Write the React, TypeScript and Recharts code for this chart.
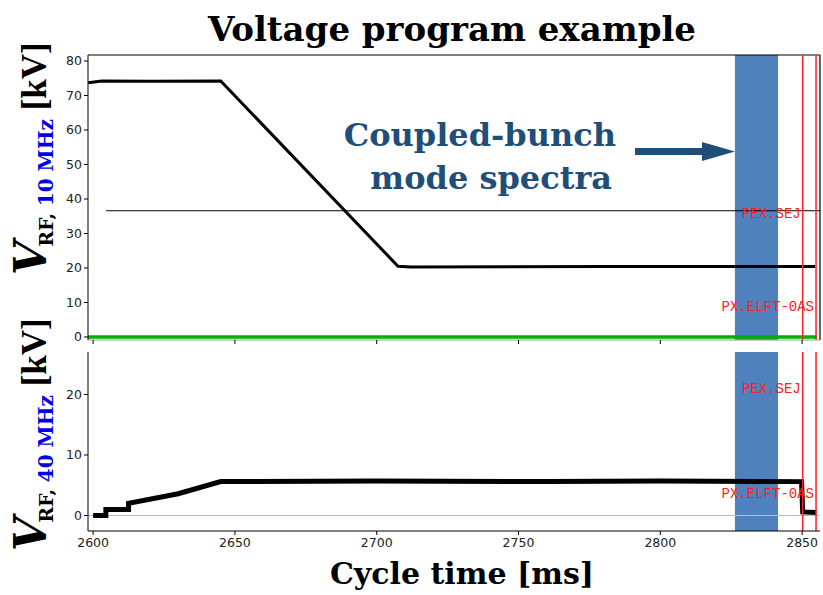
import { LineChart, Line, XAxis, YAxis, ReferenceArea, ReferenceLine, ReferenceDot } from 'recharts'

// shared time axis (ms)
const xTicks = [2600, 2650, 2700, 2750, 2800, 2850]
const xMin = 2598.2
const xMax = 2856.3

// 10 MHz voltage program [kV]
const t10 = [2598.3, 2603, 2620, 2645, 2707.5, 2712, 2780, 2854.6]
const v10 = [73.7, 74.2, 74.1, 74.2, 20.5, 20.3, 20.4, 20.4]
const y10Ticks = [0, 10, 20, 30, 40, 50, 60, 70, 80]
const y10Min = -0.87
const y10Max = 81.74

// 40 MHz voltage [kV]
const t40 = [2600, 2604.5, 2604.5, 2612.5, 2612.5, 2630, 2645, 2700, 2760, 2800, 2849.8, 2850.2, 2855]
const v40 = [0, 0, 1.0, 1.0, 2.0, 3.6, 5.6, 5.7, 5.6, 5.7, 5.6, 0.6, 0.5]
const y40Ticks = [-2, 0, 10, 20]
const y40Min = -2.56
const y40Max = 27.02

// reference trace and markers
const refTimes = [2604.6, 2856.3]
const refLevel = 36.6
const greenTimes = [2598.2, 2855.2]
const bandTimes = [2826.3, 2841.5]
const markerTimes = [2850.2, 2854.9]
const markerNames = ['PEX.SEJ', 'PX.ELFT-0AS']
const markerLevels10 = [35.9, 9.0]
const markerLevels40 = [21.1, 3.7]

const zip = (ts: number[], vs: number[]) => ts.map((t, i) => ({ t, v: vs[i] }))

const tickStyle = { fontSize: 12.5, fill: '#222', fontFamily: 'DejaVu Sans' }
const serif = 'DejaVu Serif'
const navy = '#1F4E79'

function Markers({ levels }: { levels: number[] }) {
  return (
    <>
      {markerTimes.map((m) => (
        <ReferenceLine key={'l' + m} x={m} stroke="#ff2020" strokeWidth={1.5} />
      ))}
      {markerTimes.map((m, i) => (
        <ReferenceDot
          key={'d' + m}
          x={m}
          y={levels[i]}
          r={0}
          fill="none"
          stroke="none"
          label={{ value: markerNames[i], position: 'left', offset: 2, fill: '#ff2020', fontFamily: 'Liberation Mono', fontSize: 14 }}
        />
      ))}
    </>
  )
}

function YLabel({ x, y, mhz }: { x: number; y: number; mhz: string }) {
  return (
    <text x={x} y={y} transform={`rotate(-90 ${x} ${y})`} fontFamily={serif} fontWeight="bold" fill="#000">
      <tspan fontSize={44} fontStyle="italic">V</tspan>
      <tspan fontSize={19} dx={-6} dy={7}>RF, </tspan>
      <tspan fontSize={20} fill="#0000ee">{mhz}</tspan>
      <tspan fontSize={35} dy={-7} fontFamily="Liberation Serif"> [kV]</tspan>
    </text>
  )
}

export default function App() {
  return (
    <div style={{ position: 'absolute', left: 0, top: 0, width: 823, height: 595, background: '#fff' }}>
      <div style={{ position: 'absolute', left: 0, top: 0 }}>
        <LineChart width={823} height={345} margin={{ top: 55, right: 3, left: 0, bottom: 0 }}>
          <XAxis type="number" dataKey="t" domain={[xMin, xMax]} ticks={xTicks} allowDataOverflow height={5}
            tickFormatter={() => ''} axisLine={{ stroke: '#999' }} tickLine={{ stroke: '#000' }} tickSize={4} />
          <YAxis type="number" domain={[y10Min, y10Max]} ticks={y10Ticks} allowDataOverflow width={88}
            tick={tickStyle} axisLine={{ stroke: '#000' }} tickLine={{ stroke: '#000' }} tickSize={4} tickMargin={2} />
          <ReferenceArea x1={bandTimes[0]} x2={bandTimes[1]} fill="#4F81BD" fillOpacity={1} stroke="none" />
          <ReferenceLine y={y10Max} stroke="#000" strokeWidth={1.2} />
          <ReferenceLine x={xMax} stroke="#000" strokeWidth={1.2} />
          <Line data={zip(greenTimes, [0, 0])} dataKey="v" stroke="#00b000" strokeWidth={3.5} dot={false} isAnimationActive={false} />
          <Line data={zip(refTimes, [refLevel, refLevel])} dataKey="v" stroke="#000" strokeWidth={1.2} dot={false} isAnimationActive={false} />
          <Line data={zip(t10, v10)} dataKey="v" stroke="#000" strokeWidth={3} dot={false} isAnimationActive={false} />
          <Markers levels={markerLevels10} />
        </LineChart>
      </div>
      <div style={{ position: 'absolute', left: 0, top: 0 }}>
        <LineChart width={823} height={595} margin={{ top: 352, right: 3, left: 0, bottom: 0 }}>
          <XAxis type="number" dataKey="t" domain={[xMin, xMax]} ticks={xTicks} allowDataOverflow height={64}
            tick={tickStyle} axisLine={{ stroke: '#000' }} tickLine={{ stroke: '#000' }} tickSize={4} tickMargin={3} />
          <YAxis type="number" domain={[y40Min, y40Max]} ticks={y40Ticks} allowDataOverflow width={88}
            tick={tickStyle} axisLine={{ stroke: '#000' }} tickLine={{ stroke: '#000' }} tickSize={4} tickMargin={2} />
          <ReferenceArea x1={bandTimes[0]} x2={bandTimes[1]} fill="#4F81BD" fillOpacity={1} stroke="none" />
          <ReferenceLine y={0} stroke="#bbb" strokeWidth={1.2} />
          <Line data={zip(t40, v40)} dataKey="v" stroke="#000" strokeWidth={5} dot={false} isAnimationActive={false} />
          <Markers levels={markerLevels40} />
        </LineChart>
      </div>
      <svg width={823} height={595} style={{ position: 'absolute', left: 0, top: 0, pointerEvents: 'none' }}>
        <text x={452} y={41} textAnchor="middle" fontFamily={serif} fontWeight="bold" fontSize={34}>Voltage program example</text>
        <text x={462} y={584} textAnchor="middle" fontFamily={serif} fontWeight="bold" fontSize={30}>Cycle time [ms]</text>
        <YLabel x={46} y={275} mhz="10 MHz" />
        <YLabel x={46} y={551} mhz="40 MHz" />
        <text x={616} y={146} textAnchor="end" fontFamily={serif} fontWeight="bold" fontSize={32} fill={navy}>Coupled-bunch</text>
        <text x={612} y={189} textAnchor="end" fontFamily={serif} fontWeight="bold" fontSize={32} fill={navy}>mode spectra</text>
        <rect x={635} y={148} width={70} height={7} fill={navy} />
        <polygon points="702,142 735,151.5 702,161" fill={navy} />
      </svg>
    </div>
  )
}
